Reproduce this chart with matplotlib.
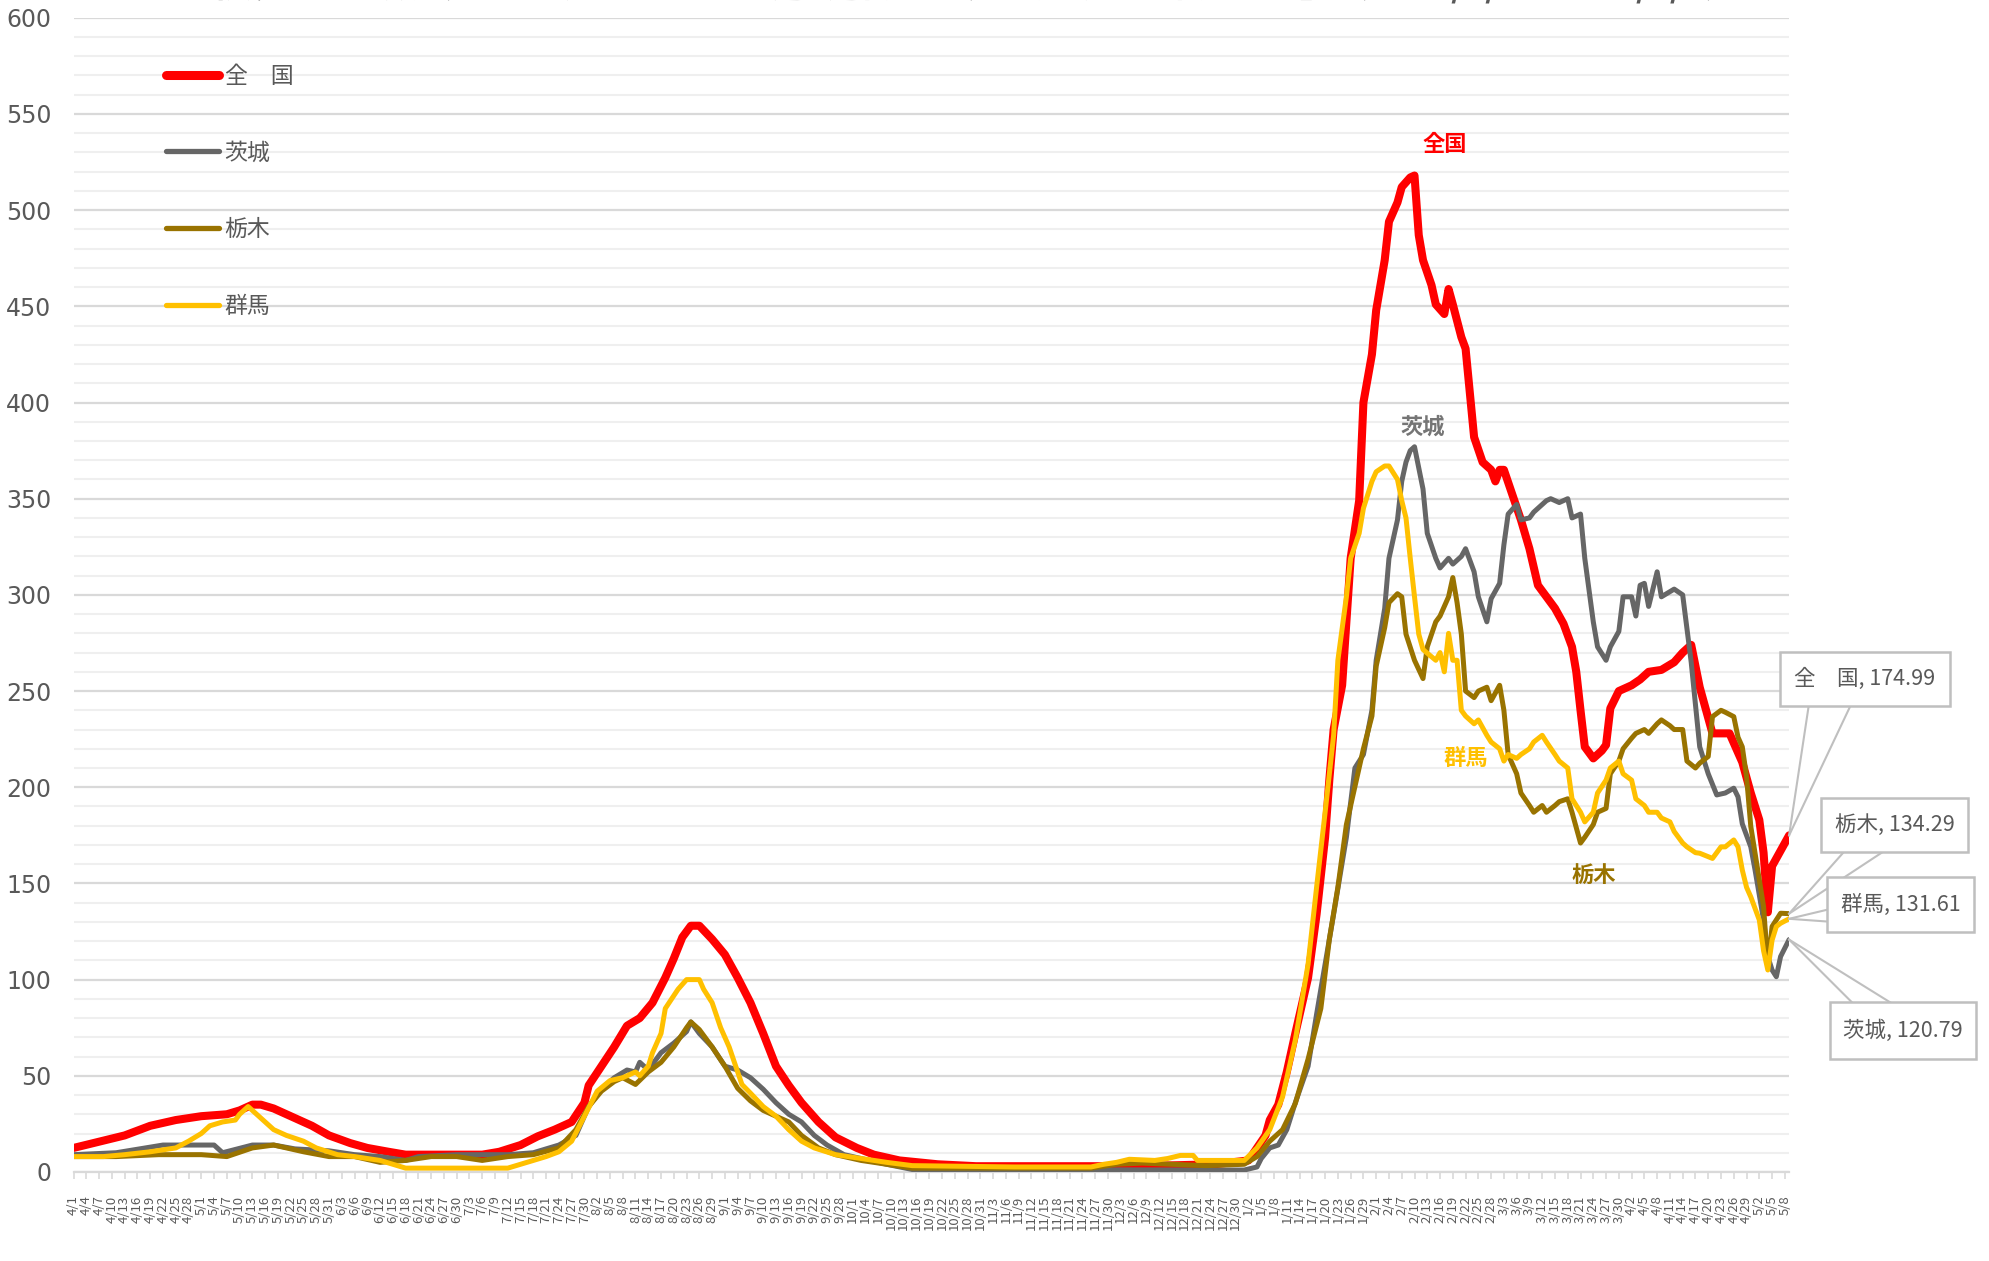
import numpy as np
import pandas as pd
import matplotlib
matplotlib.use("Agg")
import matplotlib.pyplot as plt
from matplotlib.patches import Rectangle
from matplotlib.lines import Line2D

plt.rcParams['font.family'] = ['Noto Sans CJK JP', 'DejaVu Sans']

# x axis: one category per day, labelled every 3 days
start_date = "2020-04-01"
n_days = 404
title = "新規感染者数（人口10万人当たり直近1週間合計）の推移【北関東3県】（2020/4/1～2021/5/9）"

# series: day offset from 2020-04-01 and value
zenkoku_day = [0, 12, 18, 24, 30, 36, 39, 42, 44, 47, 51, 56, 60, 65, 69, 74, 78, 96, 100, 105,
               109, 113, 115, 117, 120, 121, 124, 127, 130, 133, 136, 139, 141, 143, 145, 147, 150,
               153, 156, 159, 162, 165, 168, 171, 175, 179, 184, 188, 194, 203, 212, 250, 268, 276,
               278, 280, 281, 283, 285, 287, 290, 292, 294, 295, 296, 298, 299, 300, 302, 303, 305,
               306, 308, 309, 311, 312, 314, 315, 316, 317, 319, 320, 322, 323, 324, 326, 327, 328,
               329, 331, 333, 334, 335, 336, 338, 340, 342, 344, 346, 348, 350, 352, 353, 354, 355,
               357, 359, 360, 361, 363, 366, 368, 370, 373, 376, 378, 380, 382, 385, 389, 392, 394,
               396, 397, 398, 399, 401, 403]
zenkoku_val = [12.5, 19, 24, 27, 29, 30, 32, 35, 35, 33, 29, 24, 19, 15, 12.5, 10.5, 9, 9, 10.5, 14,
               18.5, 22, 24, 26, 36, 45, 55, 65, 76, 80, 88, 101, 111, 122, 128, 128, 121,
               113, 101, 88, 72, 55, 45, 36, 26, 18, 12.5, 9, 6, 4, 3, 3, 4, 6,
               12.5, 19, 27, 35, 52, 72, 101, 134, 174, 204, 230, 253, 286, 319, 349, 400, 425,
               448, 474, 494, 504, 512, 517, 518, 487, 474, 461, 451, 446, 459, 451, 434, 428, 405,
               382, 369, 365, 359, 365, 365, 352, 339, 324, 305, 299, 293, 285, 273, 260, 240, 221,
               215, 219, 222, 241, 250, 253, 256, 260, 261, 265, 270, 274, 252, 228, 228, 213, 197,
               183, 166, 135, 159, 167, 174.99]

ibaraki_day = [0, 10, 21, 30, 33, 35, 42, 47, 52, 60, 66, 72, 78, 81, 90, 102, 108, 114, 118, 121,
               124, 127, 130, 132, 133, 135, 138, 141, 144, 145, 147, 150, 153, 156, 159, 162, 165,
               168, 171, 174, 177, 181, 185, 191, 197, 275, 278, 279, 281, 283, 285, 287, 290, 292,
               294, 296, 299, 301, 303, 305, 306, 308, 309, 311, 312, 313, 314, 315, 317, 318, 320,
               321, 323, 324, 326, 327, 329, 330, 332, 333, 335, 336, 337, 339, 340, 342, 343, 345,
               346, 347, 349, 351, 352, 354, 355, 357, 358, 360, 361, 363, 364, 366, 367, 368, 369,
               370, 372, 373, 376, 378, 380, 382, 384, 386, 388, 390, 391, 392, 394, 395, 397, 398,
               399, 400, 401, 403]
ibaraki_val = [9, 10, 14, 14, 14, 10, 14, 14, 12, 11, 9, 8, 6, 8, 9, 9, 10, 14, 19, 34,
               43, 49, 53, 52, 57, 53, 62, 67, 73, 78, 72, 65, 55, 53, 49, 43, 36,
               30, 26, 19, 14, 9, 7, 4, 1.3, 1, 2.6, 7, 12.5, 14, 22, 36, 55, 82,
               108, 134, 174, 210, 217, 240, 266, 293, 319, 339, 359, 369, 375, 377, 355, 332, 319,
               314, 319, 316, 320, 324, 312, 299, 286, 298, 306, 326, 342, 347, 339, 340, 343, 347,
               349, 350, 348, 350, 340, 342, 319, 286, 273, 266, 273, 281, 299, 299, 289, 305, 306,
               294, 312, 299, 303, 300, 265, 221, 207, 196, 197, 199.5, 195, 181, 169, 157, 131, 112,
               105, 101.5, 112, 120.79]

tochigi_day = [0, 10, 20, 30, 36, 42, 47, 54, 60, 66, 72, 78, 84, 90, 96, 102, 108, 114, 118, 121,
               124, 127, 129, 132, 135, 138, 141, 144, 145, 147, 150, 153, 156, 159, 162, 165, 168,
               171, 175, 179, 185, 191, 197, 239, 245, 251, 266, 275, 278, 281, 284, 287, 290, 293,
               295, 297, 299, 302, 303, 305, 306, 308, 309, 311, 312, 313, 315, 317, 318, 320, 321,
               323, 324, 325, 326, 327, 329, 330, 332, 333, 335, 336, 337, 339, 340, 342, 343, 345,
               346, 348, 349, 351, 352, 354, 355, 357, 358, 360, 361, 363, 364, 366, 367, 369, 370,
               372, 373, 375, 376, 378, 379, 381, 382, 384, 385, 387, 388, 390, 391, 392, 393, 394,
               395, 397, 398, 399, 401, 403]
tochigi_val = [8, 8, 9, 9, 8, 12.5, 14, 10.5, 8, 8, 5, 6, 8, 8, 6, 8, 9, 12.5, 22, 34,
               42, 47, 49, 45.5, 52, 57, 65, 75, 78, 74, 65, 55, 43.5, 37, 32, 29, 26,
               19, 12.5, 9, 6, 4, 2, 2, 4, 4.6, 3.3, 4, 8, 16, 22, 35.6, 58.7, 85,
               121, 148, 180.6, 210, 220, 237, 263, 283, 296, 300.6, 299, 279.6, 266, 256.5, 273, 286, 289,
               299, 309, 296, 279.6, 250, 246.6, 250, 252, 245, 253, 240, 217, 207, 197, 190.5, 187, 190.5,
               187, 190.5, 192.5, 194, 187, 171, 174, 180.6, 187, 189, 207, 213.6, 220, 225.5, 228, 230, 228,
               233, 235, 232, 230, 230, 213.6, 210, 212.5, 216, 236.7, 240, 239, 236.7, 226, 221, 205.6, 179.6,
               165.7, 138, 106.8, 127.6, 134.5, 134.29]

gunma_day = [0, 7, 12, 18, 24, 27, 30, 32, 35, 38, 39, 41, 44, 47, 50, 54, 57, 62, 66, 72,
             78, 102, 105, 108, 111, 114, 117, 120, 123, 126, 129, 132, 133, 135, 136, 138, 139,
             141, 142, 144, 147, 148, 150, 152, 154, 156, 157, 159, 162, 165, 168, 171, 174, 179,
             185, 191, 197, 221, 239, 242, 245, 248, 254, 257, 260, 263, 264, 269, 275, 278, 281,
             284, 287, 290, 292, 294, 296, 297, 299, 300, 302, 303, 305, 306, 308, 309, 311, 312,
             313, 314, 315, 316, 317, 318, 320, 321, 322, 323, 324, 325, 326, 327, 329, 330, 332,
             333, 335, 336, 337, 339, 340, 342, 343, 345, 346, 348, 349, 351, 352, 354, 355, 357,
             358, 360, 361, 363, 364, 366, 367, 369, 370, 372, 373, 375, 376, 378, 379, 381, 382,
             385, 387, 388, 390, 391, 392, 393, 394, 396, 397, 398, 399, 400, 401, 403]
gunma_val = [8, 8, 9, 10.5, 12.5, 16, 20, 24, 26, 27, 30, 34, 28, 22, 19, 16, 12.5, 9, 8, 6,
             2, 2, 4, 6, 8, 10.5, 16, 29, 42, 47.5, 49, 52, 50, 55, 62, 72, 85,
             91.6, 95, 100, 100, 95, 88, 75, 65, 52, 45.5, 41, 34, 29, 22, 16, 12.5, 9,
             7, 5, 3.3, 2.6, 2.6, 4, 5, 6.6, 6, 7, 8.6, 8.6, 6, 6, 6, 12.5, 22,
             39, 68.6, 108, 148, 187, 227, 266, 299, 319, 332, 345, 359, 364, 367, 367, 360, 349,
             340, 319, 299, 279.6, 271.6, 269.7, 266, 270, 260, 280, 266, 266, 240, 237, 233, 235, 227,
             223.5, 220, 213.6, 217, 215, 217, 220, 223.5, 227, 223.5, 217, 213.6, 210, 194, 187, 182, 187,
             197, 203.7, 210, 213.6, 207, 203.7, 194, 190.5, 187, 187, 184, 182, 177, 171, 169, 166, 165.7,
             163, 169, 169, 172.6, 169, 157, 148, 143, 131, 115, 105, 120.5, 127.6, 129.3, 131.61]

series_names = ["全　国", "茨城", "栃木", "群馬"]
series_colors = ["#FF0000", "#666666", "#997300", "#FFC000"]

dates = pd.date_range(start_date, periods=n_days, freq="D")
tick_idx = np.arange(0, n_days, 3)
tick_labels = [f"{dates[i].month}/{dates[i].day}" for i in tick_idx]

fig = plt.figure(figsize=(19.89, 12.61), dpi=100)
ax = fig.add_axes([0.037, 0.0706, 0.8625, 0.9153])

days = [zenkoku_day, ibaraki_day, tochigi_day, gunma_day]
vals = [zenkoku_val, ibaraki_val, tochigi_val, gunma_val]
widths = [5.8, 3.6, 3.6, 3.6]
for d, v, c, w in zip(days, vals, series_colors, widths):
    ax.plot(d, v, color=c, lw=w, solid_joinstyle='round', solid_capstyle='round', zorder=3)

ax.set_xlim(0, n_days - 1)
ax.set_ylim(0, 600)
ax.set_yticks(np.arange(0, 601, 50))
ax.set_yticks(np.arange(0, 601, 10), minor=True)
ax.grid(axis='y', which='major', color='#d9d9d9', lw=1.6)
ax.grid(axis='y', which='minor', color='#efefef', lw=1.5)
ax.set_axisbelow(True)
for s in ['left', 'right', 'top']:
    ax.spines[s].set_visible(False)
ax.spines['bottom'].set_color('#d9d9d9')
ax.spines['bottom'].set_linewidth(1.6)
ax.tick_params(axis='y', which='both', length=0, pad=16, labelsize=17, labelcolor='#595959')
for t in ax.get_yticklabels():
    t.set_family(['Liberation Sans Narrow', 'DejaVu Sans'])
ax.set_xticks(tick_idx)
ax.set_xticklabels(tick_labels, rotation=90, fontsize=9.5, color='#595959')
ax.tick_params(axis='x', length=5, color='#d9d9d9', width=1.2, pad=12)

# legend
handles = [Line2D([], [], color=c, lw=(6.5 if i == 0 else 3.8), solid_capstyle='round')
           for i, c in enumerate(series_colors)]
ax.legend(handles, series_names, loc='upper left', bbox_to_anchor=(0.054, 0.9595),
          frameon=False, fontsize=16.5, labelspacing=2.35, handlelength=2.3, handletextpad=0.25,
          borderpad=0, borderaxespad=0, labelcolor='#595959')

# labels near the curves
ax.text(322, 534, "全国", color="#FF0000", fontsize=16, fontweight='bold', ha='center', va='center')
ax.text(317, 387, "茨城", color="#757575", fontsize=16, fontweight='bold', ha='center', va='center')
ax.text(327, 215, "群馬", color="#FFC000", fontsize=16, fontweight='bold', ha='center', va='center')
ax.text(357, 154, "栃木", color="#997300", fontsize=16, fontweight='bold', ha='center', va='center')

# callouts with the last values
last_day = n_days - 1
callouts = [
    ("全　国", zenkoku_val[-1], (400.9, 440.7, 242.3, 270.5), [(407.6, 242.3), (417.4, 242.3)]),
    ("栃木", tochigi_val[-1], (410.5, 445.1, 166.2, 194.3), [(415.8, 166.2), (424.9, 166.2)]),
    ("群馬", gunma_val[-1], (411.9, 446.5, 124.7, 153.1), [(411.9, 136.3), (411.9, 130.2)]),
    ("茨城", ibaraki_val[-1], (412.5, 447.0, 58.8, 88.1), [(417.8, 88.1), (426.8, 88.1)]),
]
for name, v, (x0, x1, y0, y1), base in callouts:
    for bx, by in base:
        ax.plot([last_day, bx], [v, by], color='#bfbfbf', lw=1.5, clip_on=False, zorder=4)
    ax.add_patch(Rectangle((x0, y0), x1 - x0, y1 - y0, fc='white', ec='#bfbfbf', lw=1.8,
                           clip_on=False, zorder=5))
    ax.text((x0 + x1) / 2, (y0 + y1) / 2, f"{name}, {v:.2f}", ha='center', va='center',
            fontsize=15.5, color='#595959', zorder=6, clip_on=False)

fig.text(0.49, 1 + 3 / 1261, title, ha='center', va='baseline', fontsize=25,
         color='#595959', fontweight='bold')

fig.savefig("out.png", dpi=100)
